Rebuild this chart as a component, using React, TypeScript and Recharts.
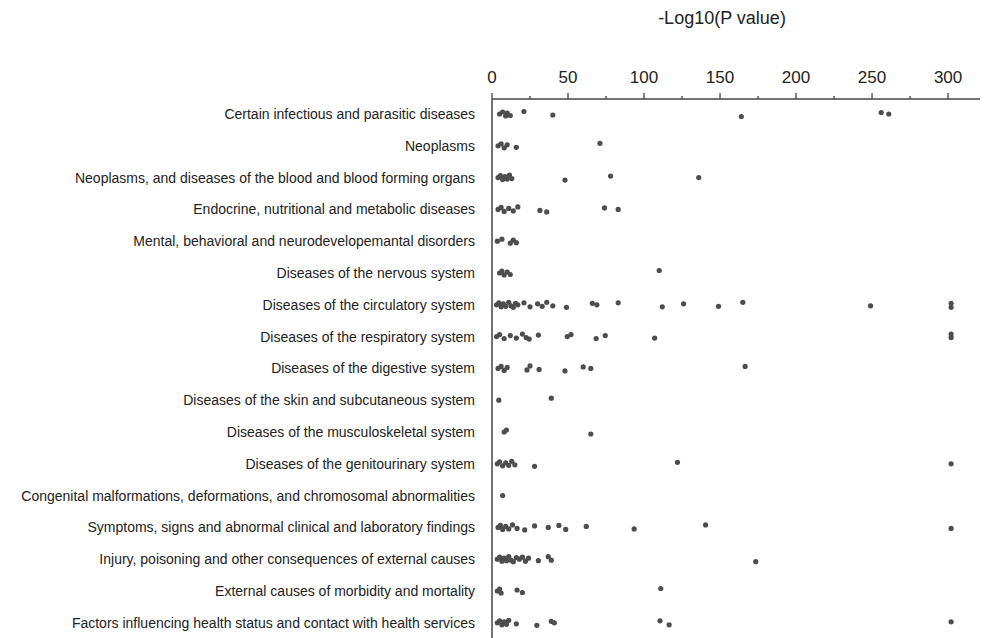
import { ScatterChart, Scatter, XAxis, YAxis } from "recharts";

const CATEGORIES = [
  "Certain infectious and parasitic diseases",
  "Neoplasms",
  "Neoplasms, and diseases of the blood and blood forming organs",
  "Endocrine, nutritional and metabolic diseases",
  "Mental, behavioral and neurodevelopemantal disorders",
  "Diseases of the nervous system",
  "Diseases of the circulatory system",
  "Diseases of the respiratory system",
  "Diseases of the digestive system",
  "Diseases of the skin and subcutaneous system",
  "Diseases of the musculoskeletal system",
  "Diseases of the genitourinary system",
  "Congenital malformations, deformations, and chromosomal abnormalities",
  "Symptoms, signs and abnormal clinical and laboratory findings",
  "Injury, poisoning and other consequences of external causes",
  "External causes of morbidity and mortality",
  "Factors influencing health status and contact with health services",
];

// -log10(p) per category
const infectious = [5, 7, 9, 10, 12, 21, 40, 164, 256, 261];
const neoplasms = [4, 6, 8, 10, 16, 71];
const blood = [4, 5.5, 7, 8.5, 10, 11.5, 13, 48, 78, 136];
const endocrine = [4, 6, 8, 11, 14, 17, 31.5, 36, 74, 83];
const mental = [3.5, 6.5, 12, 14, 16];
const nervous = [5, 6.5, 8, 10, 12, 110];
const circulatory = [3, 4.5, 6, 7.5, 9, 11, 12.5, 14, 15.5, 17, 21, 25, 30, 33, 36, 40, 49, 66, 69, 83, 112, 126, 149, 165, 249, 302, 302];
const respiratory = [3, 5, 8, 12, 16, 20, 22.5, 24.5, 30.5, 49.5, 52, 68.5, 74.5, 107, 302, 302];
const digestive = [4, 6, 8, 10, 23, 25, 31, 48, 60, 65, 166.5];
const skin = [4.5, 39];
const musculoskeletal = [8, 9.5, 65];
const genitourinary = [3.5, 5, 7, 9, 11, 13, 15, 28, 122, 302];
const congenital = [7];
const symptoms = [4, 5.5, 7, 9, 11, 13.5, 16.5, 21.5, 28, 37, 44, 48.5, 62, 93.5, 140.5, 302];
const injury = [3.5, 5, 6.5, 8, 9.5, 11, 12.5, 14, 16, 18, 20, 22, 24, 30.5, 37, 39, 173.5];
const external = [3.5, 5, 6, 16.5, 20, 111];
const factors = [3.5, 5, 6.5, 8, 9.5, 11, 16, 29.5, 39, 41, 110.5, 116.5, 302];

const SERIES = [
  infectious, neoplasms, blood, endocrine, mental, nervous, circulatory, respiratory,
  digestive, skin, musculoskeletal, genitourinary, congenital, symptoms, injury, external, factors,
];

const X_TICKS = [0, 25, 50, 75, 100, 125, 150, 175, 200, 225, 250, 275, 300];

// small vertical spread so overlapping points read as a cloud
const JITTER = [0, -2, 2, -1, 1.5, -2.5, 1, 2.5, -1.5];

const points = SERIES.flatMap((vals, row) =>
  vals.map((v, k) => ({ x: v, y: row, k }))
);

const FONT = "'Liberation Sans', Arial, Helvetica, sans-serif";

function TopTick(props: any) {
  const { x, y, payload } = props;
  const major = payload.value % 50 === 0;
  return (
    <g>
      <line x1={x} y1={y} x2={x} y2={y - (major ? 6 : 3)} stroke="#444" strokeWidth={1.3} />
      {major && (
        <text x={x} y={y - 16} textAnchor="middle" fontSize={17} fill="#222" fontFamily={FONT}>
          {payload.value}
        </text>
      )}
    </g>
  );
}

function Dot(props: any) {
  const { cx, cy, payload } = props;
  const dy = JITTER[payload.k % JITTER.length];
  return <circle cx={cx} cy={cy + dy} r={2.6} fill="#4d4d4d" />;
}

export default function App() {
  return (
    <div style={{ position: "absolute", left: 0, top: 0, width: 988, height: 638, background: "#fff" }}>
      <svg width={988} height={40} style={{ position: "absolute", left: 0, top: 0 }}>
        <text x={722} y={24} textAnchor="middle" fontSize={18} fill="#222" fontFamily={FONT}>
          -Log10(P value)
        </text>
      </svg>
      <ScatterChart width={988} height={638} margin={{ top: 0, right: 8, bottom: 0, left: 0 }}>
        <XAxis
          type="number"
          dataKey="x"
          orientation="top"
          domain={[0, 321]}
          allowDataOverflow
          ticks={X_TICKS}
          interval={0}
          height={99}
          tickLine={false}
          tickSize={0}
          tickMargin={0}
          axisLine={{ stroke: "#444", strokeWidth: 1.5 }}
          tick={<TopTick />}
        />
        <YAxis
          type="number"
          dataKey="y"
          reversed
          domain={[-0.4717, 16.478]}
          allowDataOverflow
          ticks={CATEGORIES.map((_, i) => i)}
          interval={0}
          width={492}
          tickLine={false}
          tickSize={0}
          tickMargin={17}
          axisLine={{ stroke: "#444", strokeWidth: 1.5 }}
          tickFormatter={(i: number) => CATEGORIES[i]}
          tick={{ fontSize: 14, fill: "#222", fontFamily: FONT }}
        />
        <Scatter data={points} shape={<Dot />} isAnimationActive={false} />
      </ScatterChart>
    </div>
  );
}
